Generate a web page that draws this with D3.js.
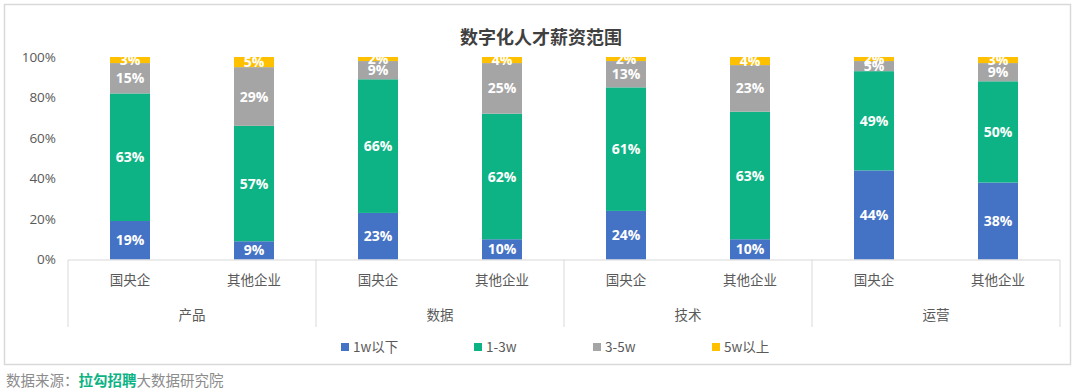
<!DOCTYPE html>
<html><head><meta charset="utf-8">
<script src="https://cdn.jsdelivr.net/npm/d3@7/dist/d3.min.js"></script>
<style>
body{margin:0;background:#fff;}
svg{display:block;font-family:"Noto Sans CJK SC","Open Sans",sans-serif;}
</style></head>
<body>
<svg id="c" width="1080" height="390"></svg>
<script>
const groups = ["产品","数据","技术","运营"];
const subs = ["国央企","其他企业"];
const seriesNames = ["1w以下","1-3w","3-5w","5w以上"];
const seriesColors = ["#4472C4","#0DB384","#A5A5A5","#FFC000"];
// values in %, order: 产品-国央企, 产品-其他企业, 数据-国央企, 数据-其他企业, 技术-国央企, 技术-其他企业, 运营-国央企, 运营-其他企业
const s1w = [19, 9, 23, 10, 24, 10, 44, 38];
const s13w = [63, 57, 66, 62, 61, 63, 49, 50];
const s35w = [15, 29, 9, 25, 13, 23, 5, 9];
const s5w = [3, 5, 2, 4, 2, 4, 2, 3];
const yTicks = [0, 20, 40, 60, 80, 100];
const title = "数字化人才薪资范围";

const svg = d3.select("#c");
// frame
svg.append("rect").attr("x",4.5).attr("y",4.5).attr("width",1066).attr("height",360)
  .attr("fill","#fff").attr("stroke","#d9d9d9").attr("stroke-width",1.5);

const pLeft = 68, pRight = 1060, pTop = 57, pBottom = 259.5;
const x0 = d3.scaleBand().domain(groups).range([pLeft,pRight]).padding(0);
const x1 = d3.scaleBand().domain(subs).range([0,x0.bandwidth()]).padding(0);
const y = d3.scaleLinear().domain([0,100]).range([pBottom,pTop]).clamp(true);
const barW = 40;

// title
svg.append("text").attr("x",541).attr("y",44).attr("text-anchor","middle")
  .attr("font-size",18).attr("font-weight","bold").attr("fill","#404040").text(title);

// y axis labels
const yAxis = d3.axisLeft(y).tickValues(yTicks).tickFormat(d=>d+"%").tickSize(0).tickPadding(12);
const ya = svg.append("g").attr("transform",`translate(${pLeft},0)`).call(yAxis);
ya.select(".domain").remove();
ya.selectAll("text").attr("font-size",13.5).attr("fill","#595959").attr("font-family","'Open Sans','Noto Sans',sans-serif");

// data rows
const rows = [];
groups.forEach((g,gi)=>subs.forEach((s,si)=>{
  const i = gi*2+si;
  rows.push({g,s,vals:[s1w[i],s13w[i],s35w[i],s5w[i]]});
}));

// bars
rows.forEach(r=>{
  let acc = 0;
  const cx = x0(r.g)+x1(r.s)+x1.bandwidth()/2;
  r.pos = [];
  r.vals.forEach((v,k)=>{
    const y0 = y(acc), y1v = y(acc+v);
    svg.append("rect").attr("x",cx-barW/2).attr("width",barW)
      .attr("y",y1v).attr("height",Math.max(0,y0-y1v)).attr("fill",seriesColors[k]);
    r.pos.push({cx, ym:(y0+y1v)/2});
    acc += v;
  });
});
// labels
rows.forEach(r=>{
  r.vals.forEach((v,k)=>{
    const p = r.pos[k];
    svg.append("text").attr("x",p.cx).attr("y",p.ym).attr("dy","0.36em")
      .attr("text-anchor","middle").attr("font-size",14).attr("font-weight","bold")
      .attr("font-family","'Open Sans','Noto Sans',sans-serif")
      .attr("fill","#fff").text(v+"%");
  });
});

// x axis line and separators
const axG = svg.append("g");
axG.append("line").attr("x1",pLeft).attr("x2",pRight).attr("y1",260).attr("y2",260)
  .attr("stroke","#d9d9d9").attr("stroke-width",1);
const seps = groups.map(g=>x0(g)).concat([pRight]);
seps.forEach(xv=>{
  axG.append("line").attr("x1",xv).attr("x2",xv).attr("y1",260).attr("y2",327)
    .attr("stroke","#d9d9d9").attr("stroke-width",1);
});
groups.forEach(g=>{
  subs.forEach(s=>{
    svg.append("text").attr("x",x0(g)+x1(s)+x1.bandwidth()/2).attr("y",285)
      .attr("text-anchor","middle").attr("font-size",13.5).attr("fill","#595959").text(s);
  });
  svg.append("text").attr("x",x0(g)+x0.bandwidth()/2).attr("y",320)
    .attr("text-anchor","middle").attr("font-size",13.5).attr("fill","#595959").text(g);
});

// legend
const legX = [341, 474, 593, 712];
seriesNames.forEach((n,k)=>{
  const lg = svg.append("g").attr("transform",`translate(${legX[k]},347)`);
  lg.append("rect").attr("x",0).attr("y",-4).attr("width",8).attr("height",8).attr("fill",seriesColors[k]);
  lg.append("text").attr("x",12).attr("y",0).attr("dy","0.36em").attr("font-size",13.5)
    .attr("fill","#595959").text(n);
});

// footer
const ft = svg.append("text").attr("x",6).attr("y",386).attr("font-size",14.5);
ft.append("tspan").attr("fill","#8c8c8c").text("数据来源：");
ft.append("tspan").attr("fill","#0DB384").attr("font-weight","bold").text("拉勾招聘");
ft.append("tspan").attr("fill","#8c8c8c").text("大数据研究院");
</script>
</body></html>
